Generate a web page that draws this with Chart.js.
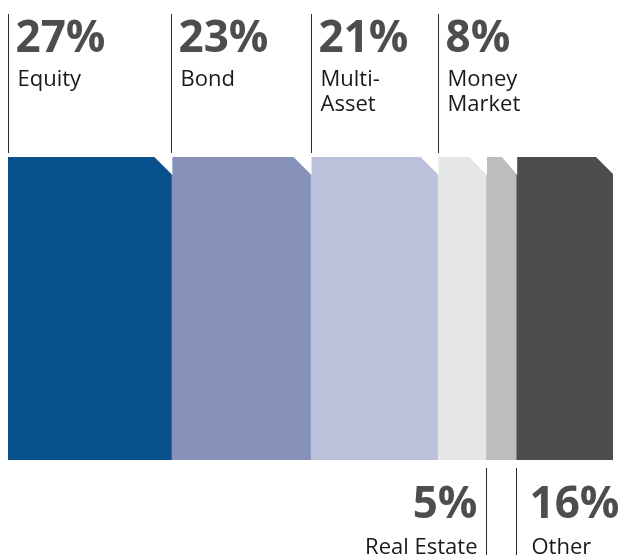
<!DOCTYPE html>
<html>
<head>
<meta charset="utf-8">
<script src="https://cdn.jsdelivr.net/npm/chart.js@4/dist/chart.umd.min.js"></script>
<style>
  html, body { margin: 0; padding: 0; background: #fff; }
  #wrap { width: 622px; height: 555px; }
</style>
</head>
<body>
<div id="wrap"><canvas id="funds" width="622" height="555"></canvas></div>
<script>
// asset class split of fund assets (%)
const categories = ['Equity', 'Bond', 'Multi-Asset', 'Money Market', 'Real Estate', 'Other'];
const shares = [27, 23, 21, 8, 5, 16];
const labelLines = [['Equity'], ['Bond'], ['Multi-', 'Asset'], ['Money', 'Market'], ['Real Estate'], ['Other']];
const labelSide = ['top', 'top', 'top', 'top', 'bottom', 'bottom'];
const colors = ['#08518d', '#8591b9', '#bbc1db', '#e5e6e8', '#bcbdbf', '#4d4d4f'];

const FONT = '"Open Sans", "Noto Sans", sans-serif';

// cut the top-right corner of every segment
const chamfer = {
  id: 'chamfer',
  afterDatasetsDraw(chart) {
    const ctx = chart.ctx;
    ctx.save();
    ctx.fillStyle = '#fff';
    chart.data.datasets.forEach((ds, i) => {
      const bar = chart.getDatasetMeta(i).data[0];
      const right = bar.x, left = bar.base;
      const top = bar.y - bar.height / 2;
      const cx = Math.min(18, (right - left) / 2);
      const cy = 18;
      ctx.beginPath();
      ctx.moveTo(right - cx, top - 1);
      ctx.lineTo(right + 1, top - 1);
      ctx.lineTo(right + 1, top + cy);
      ctx.closePath();
      ctx.fill();
    });
    ctx.restore();
  }
};

// leader lines with percentage and name
const callouts = {
  id: 'callouts',
  afterDraw(chart) {
    const ctx = chart.ctx;
    const area = chart.chartArea;
    ctx.save();
    chart.data.datasets.forEach((ds, i) => {
      const bar = chart.getDatasetMeta(i).data[0];
      const x = Math.round(bar.base) + 0.5;
      const pct = shares[i] + '%';
      ctx.strokeStyle = '#2b2b2b';
      ctx.lineWidth = 1;
      ctx.beginPath();
      if (labelSide[i] === 'top') {
        ctx.moveTo(x, 14);
        ctx.lineTo(x, area.top - 4);
        ctx.stroke();
        ctx.textAlign = 'left';
        ctx.textBaseline = 'alphabetic';
        ctx.fillStyle = '#4d4d4f';
        ctx.font = 'bold 44px ' + FONT;
        ctx.fillText(pct, x + 7, 52);
        ctx.fillStyle = '#1a1a1a';
        ctx.font = '22px ' + FONT;
        labelLines[i].forEach((t, k) => ctx.fillText(t, x + 9, 86 + k * 25));
      } else {
        ctx.moveTo(x, area.bottom + 8);
        ctx.lineTo(x, chart.height);
        ctx.stroke();
        const leftSide = i === 4;
        ctx.textAlign = leftSide ? 'right' : 'left';
        ctx.textBaseline = 'alphabetic';
        const tx = leftSide ? x - 9 : x + 13;
        ctx.fillStyle = '#4d4d4f';
        ctx.font = 'bold 44px ' + FONT;
        ctx.fillText(pct, tx, 518);
        ctx.fillStyle = '#1a1a1a';
        ctx.font = '22px ' + FONT;
        labelLines[i].forEach((t, k) => ctx.fillText(t, tx + (leftSide ? 0 : 2), 554 + k * 25));
      }
    });
    ctx.restore();
  }
};

new Chart(document.getElementById('funds').getContext('2d'), {
  type: 'bar',
  data: {
    labels: ['Funds'],
    datasets: categories.map((name, i) => ({
      label: name,
      data: [shares[i]],
      backgroundColor: colors[i],
      borderWidth: 0,
      barPercentage: 1,
      categoryPercentage: 1
    }))
  },
  options: {
    indexAxis: 'y',
    responsive: false,
    animation: false,
    layout: { padding: { left: 8, right: 9, top: 157, bottom: 95 } },
    scales: {
      x: { stacked: true, min: 0, max: 100, display: false },
      y: { stacked: true, display: false }
    },
    plugins: {
      legend: { display: false },
      tooltip: { enabled: false }
    }
  },
  plugins: [chamfer, callouts]
});
</script>
</body>
</html>
